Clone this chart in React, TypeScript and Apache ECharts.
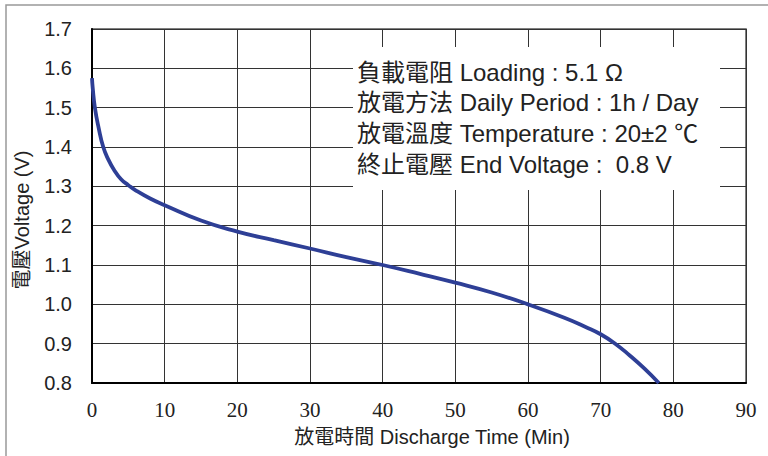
import React, { useEffect, useRef } from "react";
import * as echarts from "echarts";

const timeMin = [0, 0.1, 0.4, 0.9, 1.55, 2.25, 3, 4, 5, 6, 8, 10, 15, 20, 25, 30, 35, 40, 45, 50, 55, 60, 65, 68, 70, 72, 74, 76, 78];
const voltage = [1.575, 1.55, 1.5, 1.45, 1.4, 1.368, 1.343, 1.318, 1.303, 1.29, 1.269, 1.252, 1.213, 1.185, 1.163, 1.142, 1.12, 1.1, 1.078, 1.055, 1.03, 1.0, 0.966, 0.942, 0.924, 0.9, 0.87, 0.837, 0.8];

const xTitle = "放電時間 Discharge Time (Min)";
const yTitle = "電壓Voltage (V)";
const infoLines = [
  "負載電阻 Loading : 5.1 Ω",
  "放電方法 Daily Period : 1h / Day",
  "放電溫度 Temperature : 20±2 ℃",
  "終止電壓 End Voltage :  0.8 V",
];

const SANS = "'Liberation Sans', Arial, 'Noto Sans CJK TC', sans-serif";
const SERIF = "'Liberation Serif', 'Times New Roman', serif";

export default function App() {
  const ref = useRef<HTMLDivElement>(null);
  useEffect(() => {
    if (!ref.current) return;
    const chart = echarts.init(ref.current, undefined, { renderer: "svg" });
    const data = timeMin.map((t, i) => [t, voltage[i]]);
    chart.setOption({
      animation: false,
      backgroundColor: "#fff",
      grid: {
        left: 92,
        right: 22,
        top: 29,
        bottom: 73,
        show: true,
        borderColor: "#555",
        borderWidth: 1.5,
        backgroundColor: "transparent",
      },
      xAxis: {
        type: "value",
        min: 0,
        max: 90,
        interval: 10,
        axisLine: { show: true, onZero: false, lineStyle: { color: "#000", width: 2 } },
        axisTick: { show: false },
        splitLine: { show: true, lineStyle: { color: "#333", width: 1 } },
        axisLabel: { fontFamily: SERIF, fontSize: 21, color: "#222", margin: 16 },
      },
      yAxis: {
        type: "value",
        min: 0.8,
        max: 1.7,
        interval: 0.1,
        axisLine: { show: true, onZero: false, lineStyle: { color: "#000", width: 2 } },
        axisTick: { show: false },
        splitLine: { show: true, lineStyle: { color: "#333", width: 1 } },
        axisLabel: {
          fontFamily: SANS,
          fontSize: 20,
          color: "#222",
          margin: 20,
          formatter: (v: number) => v.toFixed(1),
        },
      },
      series: [
        {
          type: "line",
          data,
          smooth: 0.5,
          showSymbol: false,
          lineStyle: { color: "#2e3f96", width: 3.8 },
          z: 3,
        },
      ],
      graphic: [
        {
          type: "rect",
          shape: { x: 6, y: 5, width: 900, height: 600 },
          style: { fill: "none", stroke: "#999", lineWidth: 1.5 },
          z: 0,
          silent: true,
        },
        {
          type: "rect",
          shape: { x: 353, y: 47, width: 367, height: 143 },
          style: { fill: "#fff" },
          z: 10,
        },
        ...infoLines.map((line, i) => ({
          type: "text",
          x: 357,
          y: 72 + i * 30.8,
          z: 11,
          style: {
            text: line,
            fontFamily: SANS,
            fontSize: 24,
            fill: "#222",
            verticalAlign: "middle",
          },
        })),
        {
          type: "text",
          x: 432,
          y: 437,
          z: 11,
          style: {
            text: xTitle,
            fontFamily: SANS,
            fontSize: 20,
            fill: "#222",
            align: "center",
            verticalAlign: "middle",
          },
        },
        {
          type: "text",
          x: 22,
          y: 220,
          rotation: Math.PI / 2,
          z: 11,
          style: {
            text: yTitle,
            fontFamily: SANS,
            fontSize: 20,
            fill: "#222",
            align: "center",
            verticalAlign: "middle",
          },
        },
      ],
    });
    return () => chart.dispose();
  }, []);
  return (
    <div
      ref={ref}
      style={{ position: "absolute", left: 0, top: 0, width: 768, height: 456 }}
    />
  );
}
